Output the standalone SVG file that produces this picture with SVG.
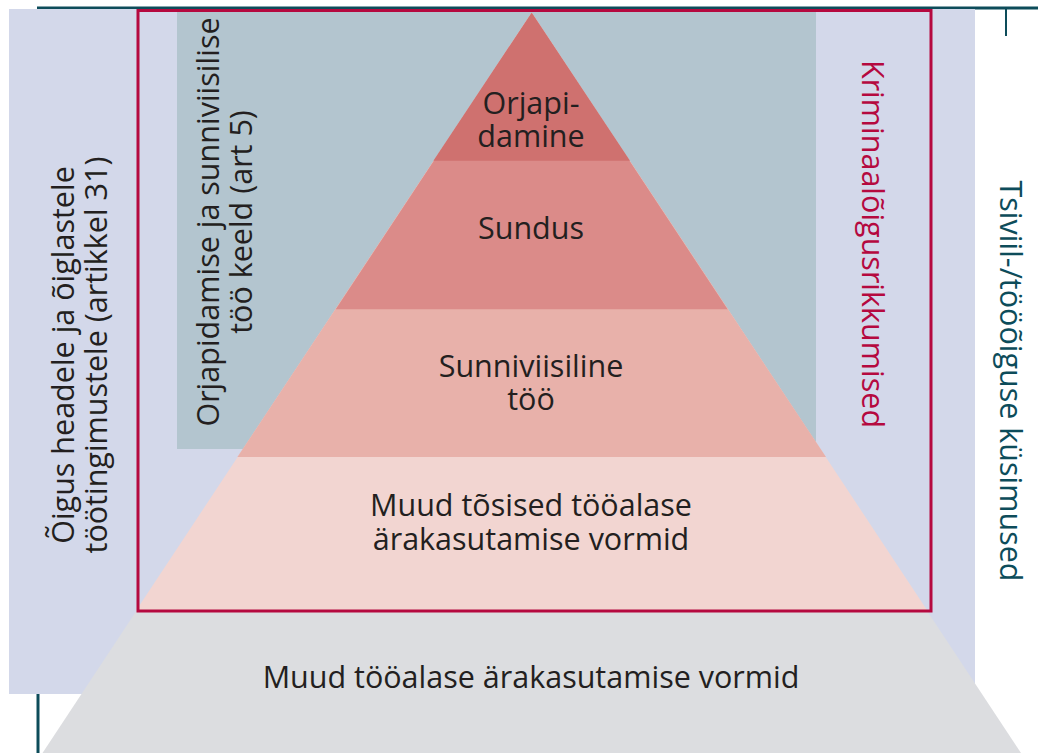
<svg xmlns="http://www.w3.org/2000/svg" width="1038" height="753" viewBox="0 0 1038 753">
<style>
.t{font-family:"Open Sans","Noto Sans","DejaVu Sans",sans-serif;font-size:30.5px;fill:#231f20;text-anchor:middle}
.red{fill:#b5093f}
.teal{fill:#0d4c5a}
</style>
<rect width="1038" height="753" fill="#ffffff"/>
<g id="frame-lines">
<line x1="38" y1="694" x2="38" y2="753" stroke="#0d4c5a" stroke-width="3"/>
<line x1="37" y1="8" x2="1038" y2="8" stroke="#0d4c5a" stroke-width="3"/>
<line x1="1006" y1="7" x2="1006" y2="36" stroke="#0d4c5a" stroke-width="2"/>
</g>
<g id="civil-zone">
<rect x="9" y="9" width="966" height="685" fill="#d3d8ea"/>
</g>
<g id="art5-zone">
<rect x="177" y="10" width="639" height="439" fill="#b3c5cf"/>
</g>
<g id="pyramid">
<polygon id="tier-other" points="531.7,12.7 1021,753 42.5,753" fill="#dcdde0"/>
<polygon id="tier-serious" points="531.7,12.7 927.6,611 135.8,611" fill="#f2d5d1"/>
<polygon id="tier-forced" points="531.7,12.7 826,457 237.4,457" fill="#e8b1aa"/>
<polygon id="tier-sundus" points="531.7,12.7 727.6,309.3 335.8,309.3" fill="#db8b89"/>
<polygon id="tier-orja" points="531.7,12.7 630,160.7 433.4,160.7" fill="#cf716f"/>
</g>
<g id="criminal-zone">
<rect x="138" y="10.5" width="793" height="600.5" fill="none" stroke="#b5093f" stroke-width="3"/>
</g>
<g id="labels">
<text class="t" x="531" y="114">Orjapi-<tspan x="531" dy="33">damine</tspan></text>
<text class="t" x="531" y="239">Sundus</text>
<text class="t" x="531" y="377">Sunniviisiline<tspan x="531" dy="33">töö</tspan></text>
<text class="t" x="531" y="516">Muud tõsised tööalase<tspan x="531" dy="34">ärakasutamise vormid</tspan></text>
<text class="t" x="531" y="688">Muud tööalase ärakasutamise vormid</text>
<text class="t" transform="translate(74,355) rotate(-90)">Õigus headele ja õiglastele<tspan x="0" dy="33">töötingimustele (artikkel 31)</tspan></text>
<text class="t" transform="translate(219,222) rotate(-90)">Orjapidamise ja sunniviisilise<tspan x="0" dy="33">töö keeld (art 5)</tspan></text>
<text class="t red" transform="translate(862,244) rotate(90)">Kriminaalõigusrikkumised</text>
<text class="t teal" transform="translate(1000,381) rotate(90)">Tsiviil-/tööõiguse küsimused</text>
</g>
</svg>
